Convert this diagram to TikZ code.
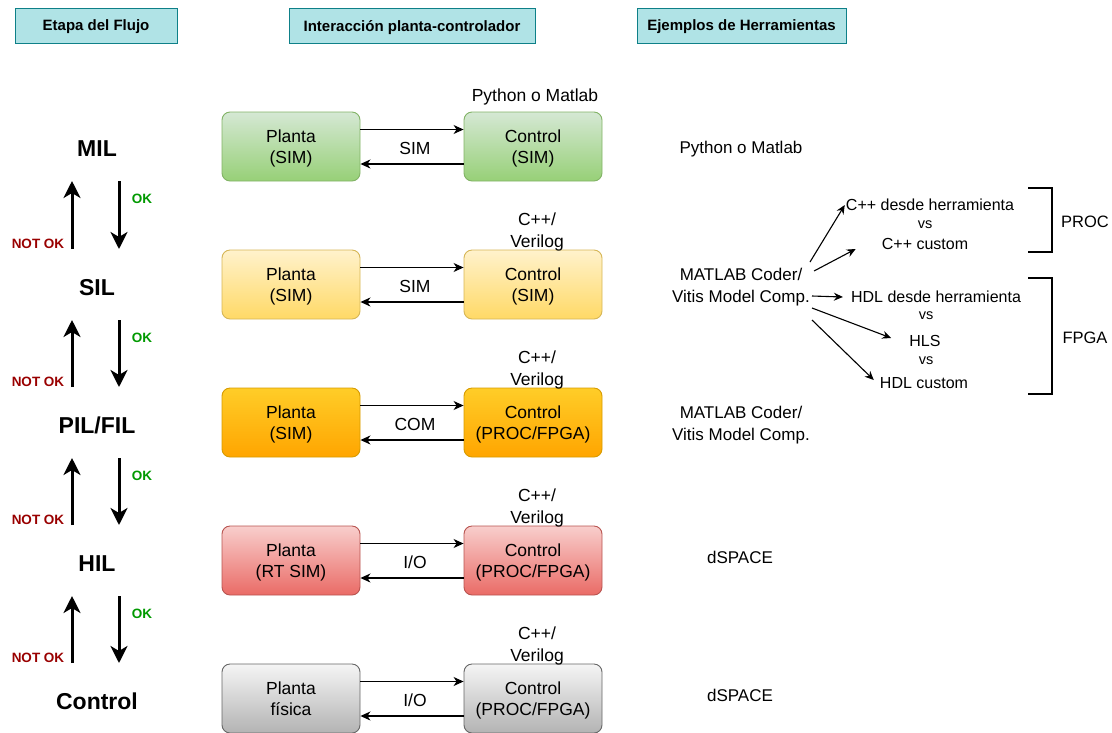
\documentclass[tikz,border=0pt]{standalone}
\usepackage{fontspec}
\setmainfont{Liberation Sans}
\usetikzlibrary{arrows.meta,calc}

% header boxes
\definecolor{hdrfill}{HTML}{B0E3E6}
\definecolor{hdrline}{HTML}{0E8088}
% block colours per stage (top, bottom, outline)
\definecolor{grtop}{HTML}{D5E8D4}\definecolor{grbot}{HTML}{97D077}\definecolor{grline}{HTML}{82B366}
\definecolor{yetop}{HTML}{FFF2CC}\definecolor{yebot}{HTML}{FFD966}\definecolor{yeline}{HTML}{D6B656}
\definecolor{ortop}{HTML}{FFCD28}\definecolor{orbot}{HTML}{FFA500}\definecolor{orline}{HTML}{D79B00}
\definecolor{rdtop}{HTML}{F8CECC}\definecolor{rdbot}{HTML}{EA6B66}\definecolor{rdline}{HTML}{B85450}
\definecolor{gytop}{HTML}{F5F5F5}\definecolor{gybot}{HTML}{B3B3B3}\definecolor{gyline}{HTML}{666666}
\definecolor{okgreen}{HTML}{009900}
\definecolor{nokred}{HTML}{990000}

\begin{document}
\begin{tikzpicture}[x=1pt,y=-1pt,
  header/.style={draw=hdrline, fill=hdrfill, line width=1pt, minimum width=#1,
    minimum height=35pt, inner sep=0pt, text depth=-4pt,
    font=\fontsize{15}{18}\selectfont\bfseries},
  stage/.style={inner sep=0pt, yshift=-1.5pt, font=\fontsize{23}{27}\selectfont\bfseries},
  stagearrow/.style={line width=3pt, -{Stealth[length=17pt,width=17pt,inset=5pt]}},
  oklbl/.style={inner sep=0pt, yshift=-1pt, text=okgreen, font=\fontsize{13.5}{16}\selectfont\bfseries},
  noklbl/.style={inner sep=0pt, yshift=-1pt, text=nokred, font=\fontsize{13.5}{16}\selectfont\bfseries},
  block/.style={rounded corners=8pt, line width=0.9pt, minimum width=138pt,
    minimum height=69pt, inner sep=0pt, text depth=-2pt, align=center,
    font=\fontsize{17.5}{21.5}\selectfont},
  greenbox/.style={block, top color=grtop, bottom color=grbot, draw=grline},
  yellowbox/.style={block, top color=yetop, bottom color=yebot, draw=yeline},
  orangebox/.style={block, top color=ortop, bottom color=orbot, draw=orline},
  redbox/.style={block, top color=rdtop, bottom color=rdbot, draw=rdline},
  graybox/.style={block, top color=gytop, bottom color=gybot, draw=gyline},
  flow/.style={line width=1.2pt, -{Stealth[length=10pt,width=9pt,inset=3pt]}},
  txt/.style={inner sep=0pt, yshift=-2pt, align=center, font=\fontsize{17.5}{22}\selectfont},
  tool/.style={inner sep=0pt, yshift=-2pt, align=center, font=\fontsize{17}{22}\selectfont},
  tree/.style={inner sep=0pt, yshift=-1pt, font=\fontsize{16}{19}\selectfont},
  vs/.style={inner sep=0pt, font=\fontsize{14.5}{16}\selectfont},
  treearrow/.style={line width=1.1pt, -{Stealth[length=9pt,width=8pt,inset=3pt]}},
  bracket/.style={line width=2pt},
]
\useasboundingbox (0,0) rectangle (1112,732);
\clip (0,0) rectangle (1112,732);

% column headers
\node[header=162pt] (h1) at (96,25.5) {Etapa del Flujo};
\node[header=246pt] (h2) at (412,25.5) {Interacción planta-controlador};
\node[header=209pt] (h3) at (741.5,25.5) {Ejemplos de Herramientas};

% flow stages (node centres end up 1.5pt lower than the given points)
\node[stage] (s0) at (97,147) {MIL};
\node[stage] (s1) at (97,286) {SIL};
\node[stage] (s2) at (97,424) {PIL/FIL};
\node[stage] (s3) at (97,562) {HIL};
\node[stage] (s4) at (97,700) {Control};

\foreach \a/\b in {s0/s1, s1/s2, s2/s3, s3/s4}{
  \coordinate (up-\a) at ($(\b)+(-25,-38.5)$);
  \coordinate (upend-\a) at ($(\a)+(-25,32.5)$);
  \draw[stagearrow] (up-\a) -- (upend-\a);
  \coordinate (dn-\a) at ($(\a)+(22,32.5)$);
  \coordinate (dnend-\a) at ($(\b)+(22,-38.5)$);
  \draw[stagearrow] (dn-\a) -- (dnend-\a);
  \node[noklbl] (nok-\a) at ($(\b)+(-59,-44.5)$) {NOT OK};
  \node[oklbl] (ok-\a) at ($(\a)+(45,49.5)$) {OK};
}

% plant / controller pairs
\node[greenbox]  (p1) at (291,146.5) {Planta\\(SIM)};
\node[greenbox]  (c1) at (533,146.5) {Control\\(SIM)};
\node[yellowbox] (p2) at (291,284.5) {Planta\\(SIM)};
\node[yellowbox] (c2) at (533,284.5) {Control\\(SIM)};
\node[orangebox] (p3) at (291,422.5) {Planta\\(SIM)};
\node[orangebox] (c3) at (533,422.5) {Control\\(PROC/FPGA)};
\node[redbox]    (p4) at (291,560.5) {Planta\\(RT SIM)};
\node[redbox]    (c4) at (533,560.5) {Control\\(PROC/FPGA)};
\node[graybox]   (p5) at (291,698.5) {Planta\\física};
\node[graybox]   (c5) at (533,698.5) {Control\\(PROC/FPGA)};

\foreach \i/\lbl in {1/SIM, 2/SIM, 3/COM, 4/I\slash O, 5/I\slash O}{
  \draw[flow] ([yshift=17pt]p\i.east) -- ([yshift=17pt]c\i.west);
  \draw[flow] ([yshift=-17.5pt]c\i.west) -- ([yshift=-17.5pt]p\i.east);
  \node[txt] (link\i) at ($(p\i.east)!0.5!(c\i.west)+(3,0)$) {\lbl};
}

% languages above each controller
\node[txt] (lang1) at ($(c1.north)+(2,-17)$) {Python o Matlab};
\foreach \i in {2,3,4,5}{
  \node[txt] (lang\i) at ($(c\i.north)+(4,-20)$) {C++/\\Verilog};
}

% tool examples
\node[tool] (t1) at (741,147) {Python o Matlab};
\node[tool] (t2) at (741,285) {MATLAB Coder/\\Vitis Model Comp.};
\node[tool] (t3) at (741,423) {MATLAB Coder/\\Vitis Model Comp.};
\node[tool] (t4) at (740,555) {dSPACE};
\node[tool] (t5) at (740,693) {dSPACE};

% code generation options
\node[tree] (cppA) at (930,204) {C++ desde herramienta};
\node[vs]   (vs1)  at (925,225) {vs};
\node[tree] (cppB) at (925,243) {C++ custom};
\node[tree] (hdlA) at (936,296) {HDL desde herramienta};
\node[vs]   (vs2)  at (926,316) {vs};
\node[tree] (hls)  at (925,340) {HLS};
\node[vs]   (vs3)  at (926,361) {vs};
\node[tree] (hdlB) at (924,382) {HDL custom};

\coordinate (m1) at (810,262);
\coordinate (m2) at (814,271);
\coordinate (m3) at (812,296);
\coordinate (m4) at (812,308);
\coordinate (m5) at (812,320);
\draw[treearrow] (m1) -- ($(cppA.west)+(-1,0)$);
\draw[treearrow] (m2) -- ($(cppB.west)+(-26,5)$);
\draw[treearrow] (m3) -- ($(hdlA.west)+(-8,0)$);
\draw[treearrow] (m4) -- ($(hls.west)+(-18,-3)$);
\draw[treearrow] (m5) -- ($(hdlB.west)+(-6,-3)$);

% target groups
\draw[bracket] (1028,188) -- (1052,188) -- (1052,252) -- (1028,252);
\draw[bracket] (1028,278) -- (1052,278) -- (1052,394) -- (1028,394);
\node[tree, font=\fontsize{16.5}{19}\selectfont] (proc) at (1085,221) {PROC};
\node[tree, font=\fontsize{16.5}{19}\selectfont] (fpga) at (1085,337) {FPGA};
\end{tikzpicture}
\end{document}
